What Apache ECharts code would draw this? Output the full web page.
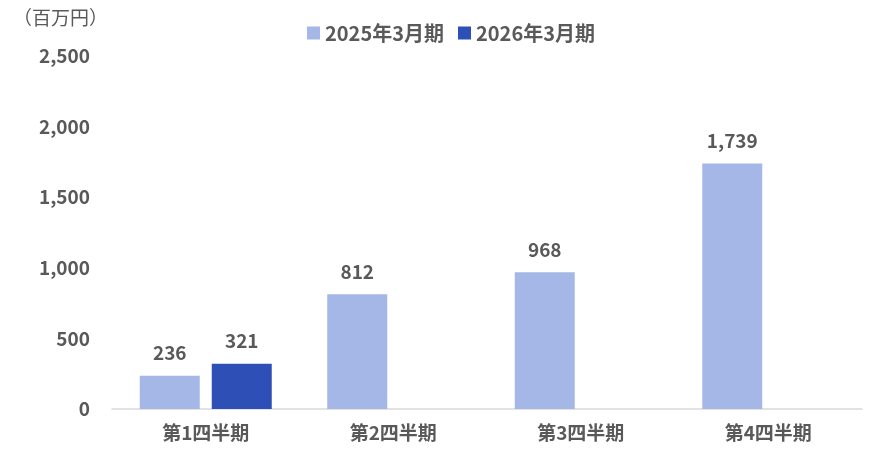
<!DOCTYPE html>
<html><head><meta charset="utf-8">
<script src="https://cdn.jsdelivr.net/npm/echarts@6/dist/echarts.min.js"></script>
<style>html,body{margin:0;padding:0;background:#fff}#c{width:886px;height:460px}</style>
</head><body><div id="c"></div>
<script>
var categories = ['第1四半期', '第2四半期', '第3四半期', '第4四半期'];
var seriesNames = ['2025年3月期', '2026年3月期'];
var fy2025 = [236, 812, 968, 1739];
var fy2026 = [321, null, null, null];
var yTicks = [0, 500, 1000, 1500, 2000, 2500];

var FONT = '"Noto Sans CJK JP", "Open Sans", sans-serif';
var TXT = '#595959';
var FS = 19;
function fmt(v){ return Number(v).toLocaleString('en-US'); }

var chart = echarts.init(document.getElementById('c'));
chart.setOption({
  animation: false,
  textStyle: { fontFamily: FONT },
  graphic: [{
    type: 'text', left: 13, top: 8,
    style: { text: '（百万円）', fill: TXT, font: '19px ' + FONT }
  }],
  legend: {
    top: 18, left: 302,
    itemWidth: 13, itemHeight: 13, itemGap: 14,
    icon: 'rect',
    textStyle: { color: TXT, fontSize: 20, fontWeight: 'bold', fontFamily: FONT },
    data: seriesNames
  },
  grid: { left: 112, right: 24, top: 56, bottom: 51, containLabel: false },
  xAxis: {
    type: 'category', data: categories,
    axisLine: { lineStyle: { color: '#D9D9D9', width: 1.5 } },
    axisTick: { show: false },
    axisLabel: { color: TXT, fontSize: FS, fontWeight: 'bold', fontFamily: FONT, margin: 14 }
  },
  yAxis: {
    type: 'value', min: yTicks[0], max: yTicks[yTicks.length-1], interval: 500,
    axisLine: { show: false }, axisTick: { show: false },
    splitLine: { show: false },
    axisLabel: { color: TXT, fontSize: FS, fontWeight: 'bold', fontFamily: FONT, margin: 22,
      formatter: function(v){ return fmt(v); } }
  },
  series: [
    { name: seriesNames[0], type: 'bar', data: fy2025, barWidth: 60, barGap: '20%',
      itemStyle: { color: '#A5B7E7' },
      label: { show: true, position: 'top', distance: 13, color: TXT, fontSize: FS, fontWeight: 'bold',
        fontFamily: FONT, formatter: function(p){ return fmt(p.value); } } },
    { name: seriesNames[1], type: 'bar', data: fy2026, barWidth: 60, barGap: '20%',
      itemStyle: { color: '#2E4FB5' },
      label: { show: true, position: 'top', distance: 13, color: TXT, fontSize: FS, fontWeight: 'bold',
        fontFamily: FONT, formatter: function(p){ return fmt(p.value); } } }
  ]
});
</script></body></html>
